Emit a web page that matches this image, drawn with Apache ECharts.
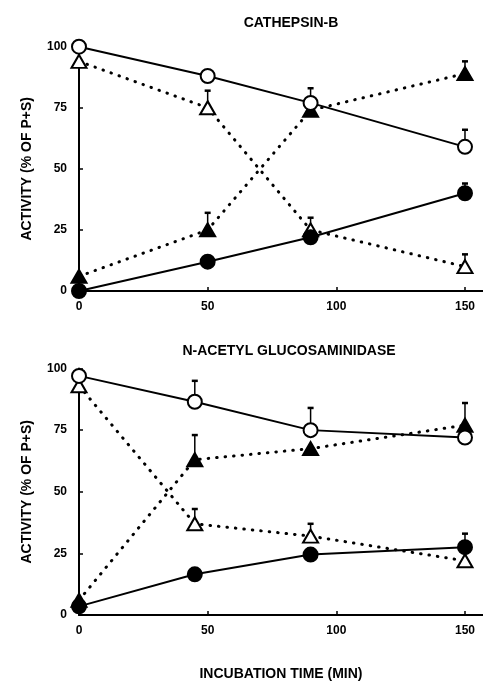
<!DOCTYPE html>
<html><head><meta charset="utf-8">
<script src="https://cdn.jsdelivr.net/npm/echarts@6/dist/echarts.min.js"></script>
<style>html,body{margin:0;padding:0;background:#fff}#c{width:483px;height:684px}</style>
</head><body><div id="c"></div>
<script>
// ---- data ----
const topTitle = 'CATHEPSIN-B';
const botTitle = 'N-ACETYL GLUCOSAMINIDASE';
const yName = 'ACTIVITY (% OF P+S)';
const xName = 'INCUBATION TIME (MIN)';
const xTicks = [0, 50, 100, 150];
const yTicks = [0, 25, 50, 75, 100];

const topX = [0, 50, 90, 150];
const topOpenCircle   = [100, 88, 77, 59];
const topFilledCircle = [0, 12, 22, 40];
const topOpenTri      = [94, 75, 25, 10];
const topFilledTri    = [6, 25, 74, 89];
const topOpenCircleErr   = [null, null, 83, 66];
const topFilledCircleErr = [null, null, null, 44];
const topOpenTriErr      = [null, 82, 30, 15];
const topFilledTriErr    = [null, 32, null, 94];

const botX = [0, 45, 90, 150];
const botOpenCircle   = [97, 86.5, 75, 72];
const botFilledCircle = [3.5, 16.5, 24.5, 27.5];
const botOpenTri      = [93, 37, 32, 22];
const botFilledTri    = [6, 63, 67.5, 77];
const botOpenCircleErr   = [null, 95, 84, null];
const botFilledCircleErr = [null, null, null, 33];
const botOpenTriErr      = [null, 43, 37, null];
const botFilledTriErr    = [null, 73, null, 86];

// ---- chart ----
const FONT = 'Liberation Sans';
const pairs = (xs, ys) => xs.map((x, i) => [x, ys[i]]);

function lineSeries(idx, xs, ys, symbol, filled, dotted) {
  return {
    type: 'line', xAxisIndex: idx, yAxisIndex: idx, data: pairs(xs, ys),
    symbol: symbol, symbolSize: symbol === 'circle' ? 14 : [15, 13],
    showAllSymbol: true, clip: false, z: 3,
    lineStyle: dotted ? { color: '#000', width: 3, type: [0.5, 8], cap: 'round' }
                      : { color: '#000', width: 2 },
    itemStyle: { color: filled ? '#000' : '#fff', borderColor: '#000', borderWidth: 2, opacity: 1 },
    emphasis: { disabled: true }, animation: false
  };
}

function errSeries(idx, xs, ys, errs) {
  const d = [];
  xs.forEach((x, i) => { if (errs[i] != null) d.push([x, ys[i], errs[i]]); });
  return {
    type: 'custom', xAxisIndex: idx, yAxisIndex: idx, data: d, z: 2, clip: false,
    renderItem: function (params, api) {
      const p0 = api.coord([api.value(0), api.value(1)]);
      const p1 = api.coord([api.value(0), api.value(2)]);
      return { type: 'group', children: [
        { type: 'line', shape: { x1: p0[0], y1: p0[1], x2: p1[0], y2: p1[1] },
          style: { stroke: '#000', lineWidth: 1.5 } },
        { type: 'line', shape: { x1: p1[0] - 3, y1: p1[1], x2: p1[0] + 3, y2: p1[1] },
          style: { stroke: '#000', lineWidth: 2.5 } }
      ]};
    },
    animation: false
  };
}

function xAxis(idx, withName) {
  return {
    type: 'value', gridIndex: idx, min: 0, max: 157, interval: 50,
    name: withName ? xName : '', nameLocation: 'middle', nameGap: 52,
    nameTextStyle: { fontFamily: FONT, fontWeight: 'bold', fontSize: 14, color: '#000' },
    axisLine: { show: true, lineStyle: { color: '#000', width: 2 } },
    axisTick: { show: true, inside: true, length: 4, lineStyle: { color: '#000', width: 1.5 }, customValues: xTicks },
    axisLabel: { fontFamily: FONT, fontWeight: 'bold', fontSize: 12, color: '#000', margin: 10, customValues: xTicks },
    splitLine: { show: false }
  };
}
function yAxis(idx) {
  return {
    type: 'value', gridIndex: idx, min: 0, max: 100, interval: 25,
    name: yName, nameLocation: 'middle', nameGap: 45, nameRotate: 90,
    nameTextStyle: { fontFamily: FONT, fontWeight: 'bold', fontSize: 14, color: '#000' },
    axisLine: { show: true, lineStyle: { color: '#000', width: 2 } },
    axisTick: { show: true, inside: true, length: 4, lineStyle: { color: '#000', width: 1.5 } },
    axisLabel: { fontFamily: FONT, fontWeight: 'bold', fontSize: 12, color: '#000', margin: 12 },
    splitLine: { show: false }
  };
}

const option = {
  backgroundColor: '#fff',
  animation: false,
  title: [
    { text: topTitle, left: 286, top: 11, textAlign: 'center',
      textStyle: { fontFamily: FONT, fontWeight: 'bold', fontSize: 14, color: '#000' } },
    { text: botTitle, left: 284, top: 339, textAlign: 'center',
      textStyle: { fontFamily: FONT, fontWeight: 'bold', fontSize: 14, color: '#000' } }
  ],
  grid: [
    { left: 79, top: 46.7, width: 404, height: 244.3 },
    { left: 79, top: 368.5, width: 404, height: 246.5 }
  ],
  xAxis: [xAxis(0, false), xAxis(1, true)],
  yAxis: [yAxis(0), yAxis(1)],
  series: [
    errSeries(0, topX, topOpenCircle, topOpenCircleErr),
    errSeries(0, topX, topFilledCircle, topFilledCircleErr),
    errSeries(0, topX, topOpenTri, topOpenTriErr),
    errSeries(0, topX, topFilledTri, topFilledTriErr),
    lineSeries(0, topX, topOpenTri, 'triangle', false, true),
    lineSeries(0, topX, topFilledTri, 'triangle', true, true),
    lineSeries(0, topX, topFilledCircle, 'circle', true, false),
    lineSeries(0, topX, topOpenCircle, 'circle', false, false),

    errSeries(1, botX, botOpenCircle, botOpenCircleErr),
    errSeries(1, botX, botFilledCircle, botFilledCircleErr),
    errSeries(1, botX, botOpenTri, botOpenTriErr),
    errSeries(1, botX, botFilledTri, botFilledTriErr),
    lineSeries(1, botX, botOpenTri, 'triangle', false, true),
    lineSeries(1, botX, botFilledTri, 'triangle', true, true),
    lineSeries(1, botX, botFilledCircle, 'circle', true, false),
    lineSeries(1, botX, botOpenCircle, 'circle', false, false)
  ]
};
const chart = echarts.init(document.getElementById('c'), null, { renderer: 'canvas' });
chart.setOption(option);
</script></body></html>
